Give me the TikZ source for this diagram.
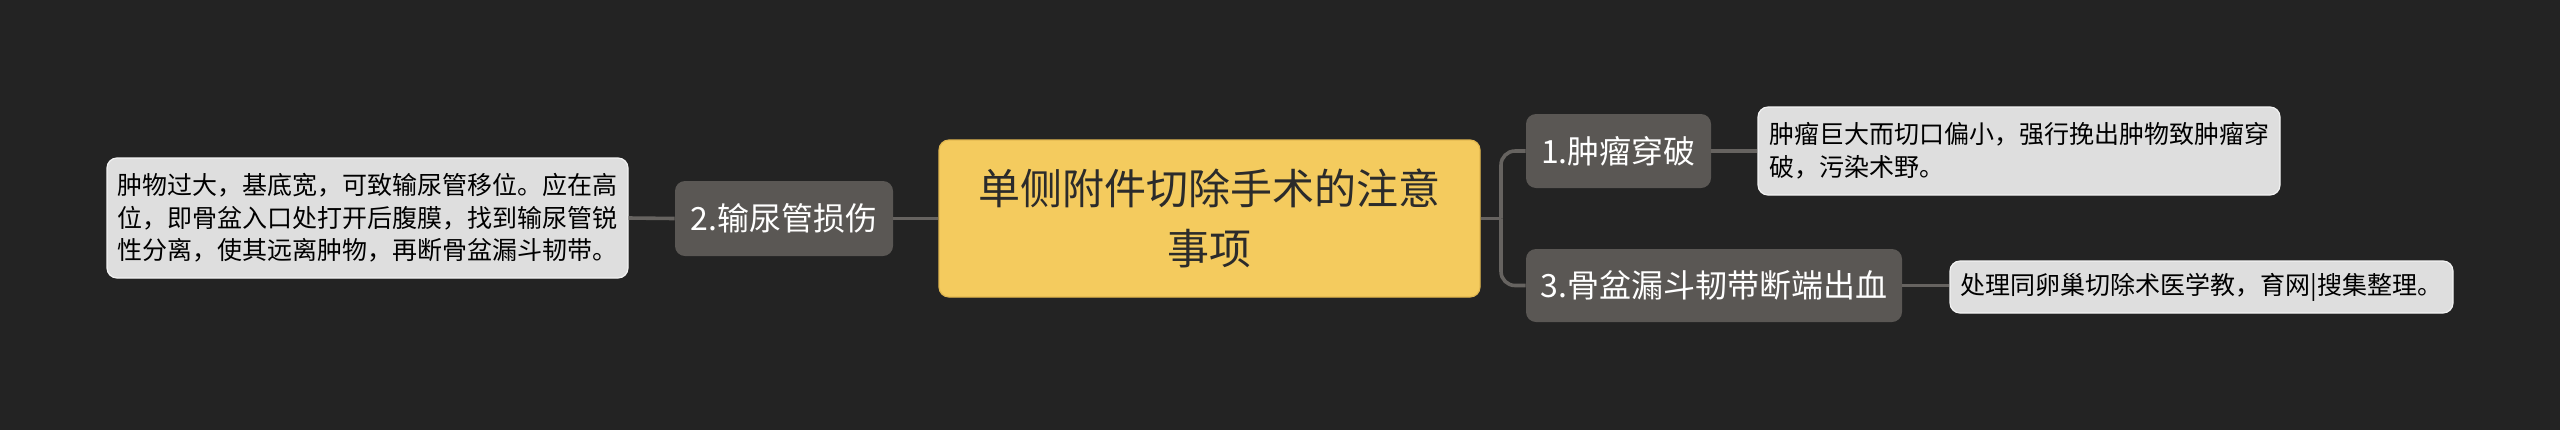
\documentclass[tikz,border=0pt]{standalone}
\usepackage{fontspec}
\setmainfont{Noto Sans CJK SC}
\definecolor{bgc}{HTML}{232323}
\definecolor{rootc}{HTML}{F4CB5E}
\definecolor{rootb}{HTML}{E2B850}
\definecolor{midc}{HTML}{5A5754}
\definecolor{leafc}{HTML}{DEDEDE}
\definecolor{leafb}{HTML}{F2F2F2}
\definecolor{linec}{HTML}{666360}
\definecolor{txtd}{HTML}{2B2B2B}
\tikzset{
  rootbox/.style={draw=rootb, line width=0.6pt, fill=rootc, rounded corners=5pt, inner sep=0pt,
    align=center, text=txtd, font=\fontsize{21}{30}\selectfont},
  midbox/.style={fill=midc, rounded corners=5pt, inner sep=0pt, align=center, text=white,
    font=\fontsize{16}{20}\selectfont},
  leafbox/.style={draw=leafb, line width=0.6pt, fill=leafc, rounded corners=5pt, inner sep=0pt,
    align=left, text=black, font=\fontsize{12.5}{16.25}\selectfont},
  conn/.style={draw=linec, line width=1.8pt}
}
\begin{document}
\begin{tikzpicture}[x=0.5pt, y=-0.5pt]
\useasboundingbox (0,0) rectangle (2560,430);
\fill[bgc] (0,0) rectangle (2560,430);

\node[rootbox, minimum width=270.5pt, minimum height=78.5pt] (root) at (1209.5,218.5)
  {单侧附件切除手术的注意\\事项};

\node[midbox, minimum width=109pt, minimum height=37.5pt] (m2) at (784,218.5) {2.输尿管损伤};
\node[leafbox, minimum width=260.5pt, minimum height=60pt] (l2) at (367.5,218)
  {肿物过大，基底宽，可致输尿管移位。应在高\\位，即骨盆入口处打开后腹膜，找到输尿管锐\\性分离，使其远离肿物，再断骨盆漏斗韧带。};

\node[midbox, minimum width=92.5pt, minimum height=37pt] (m1) at (1618.5,151) {1.肿瘤穿破};
\node[leafbox, minimum width=261pt, minimum height=44pt] (l1) at (2019,151)
  {肿瘤巨大而切口偏小，强行挽出肿物致肿瘤穿\\破，污染术野。};

\node[midbox, minimum width=188pt, minimum height=36.5pt] (m3) at (1714,285.5) {3.骨盆漏斗韧带断端出血};
\node[leafbox, minimum width=251.5pt, minimum height=26pt] (l3) at (2201.5,287)
  {处理同卵巢切除术医学教，育网|搜集整理。};

\coordinate (j) at (1501,218.5);

\draw[conn] (root.west) -- (m2.east);
\draw[conn] (m2.west) -- (l2.east);
\draw[conn] (root.east) -- (j);
\draw[conn, rounded corners=7pt] (j) |- (m1.west);
\draw[conn, rounded corners=7pt] (j) |- (m3.west);
\draw[conn] (m1.east) -- (l1.west);
\draw[conn] (m3.east) -- (l3.west |- m3.east);
\end{tikzpicture}
\end{document}
